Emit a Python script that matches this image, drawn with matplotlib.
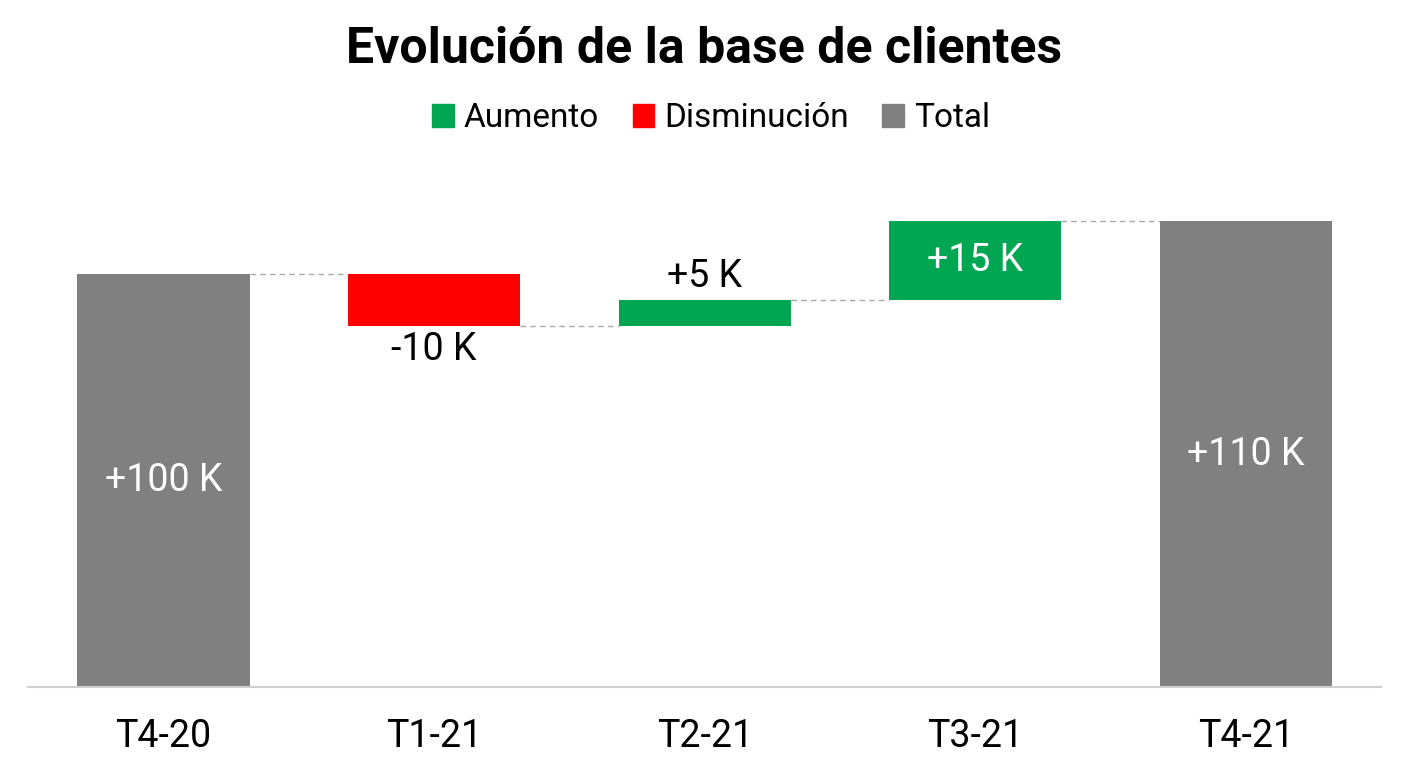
import matplotlib.pyplot as plt
from matplotlib.patches import Patch

plt.rcParams['font.family'] = ['Roboto', 'DejaVu Sans']

# Data
categories = ['T4-20', 'T1-21', 'T2-21', 'T3-21', 'T4-21']
changes = [100, -10, 5, 15, 110]
kinds = ['total', 'dec', 'inc', 'inc', 'total']
labels = ['+100 K', '-10 K', '+5 K', '+15 K', '+110 K']

colors = {'inc': '#00A651', 'dec': '#FF0000', 'total': '#808080'}

y_min, y_max = 21, 116

fig = plt.figure(figsize=(14.08, 7.68), dpi=100)
ax = fig.add_axes([0.02, 0.1055, 0.961, 0.647])

# compute bar bottoms / tops
running = 0
bottoms, tops = [], []
for v, k in zip(changes, kinds):
    if k == 'total':
        b, t = 0, v
        running = v
    else:
        b = running
        running += v
        t = running
    bottoms.append(min(b, t))
    tops.append(max(b, t))

width = 0.636
for i, (b, t, k) in enumerate(zip(bottoms, tops, kinds)):
    ax.bar(i, t - b, bottom=b, width=width, color=colors[k], zorder=2)

# connectors
levels = []
running = 0
for v, k in zip(changes, kinds):
    running = v if k == 'total' else running + v
    levels.append(running)
for i in range(len(categories) - 1):
    ax.plot([i + width / 2, i + 1 - width / 2], [levels[i], levels[i]],
            color='#AAAAAA', linestyle=(0, (4, 3)), linewidth=1, zorder=1)

# value labels
for i, (b, t, k, lab) in enumerate(zip(bottoms, tops, kinds, labels)):
    vis_b = max(b, y_min)
    if t - vis_b > 12:
        ax.text(i, (vis_b + t) / 2, lab, ha='center', va='center',
                color='white', fontsize=27)
    elif k == 'dec':
        ax.text(i, b - 1.0, lab, ha='center', va='top', color='black', fontsize=27)
    else:
        ax.text(i, t + 1.0, lab, ha='center', va='bottom', color='black', fontsize=27)

ax.set_xlim(-0.5, 4.5)
ax.set_ylim(y_min, y_max)
ax.set_xticks(range(len(categories)))
ax.set_xticklabels(categories, fontsize=27)
ax.tick_params(axis='x', length=0, pad=22)
ax.set_yticks([])
for s in ['top', 'left', 'right']:
    ax.spines[s].set_visible(False)
ax.spines['bottom'].set_color('#D0D0D0')
ax.spines['bottom'].set_linewidth(1.5)

fig.text(0.5, 0.936, 'Evolución de la base de clientes', ha='center', va='center',
         fontsize=36, fontweight='bold')

handles = [Patch(color=colors['inc'], label='Aumento'),
           Patch(color=colors['dec'], label='Disminución'),
           Patch(color=colors['total'], label='Total')]
fig.legend(handles=handles, loc='center', bbox_to_anchor=(0.505, 0.846), ncol=3,
           frameon=False, fontsize=24, handlelength=0.65, handleheight=0.65,
           handletextpad=0.3, columnspacing=1.0)

fig.savefig('out.png', dpi=100)
